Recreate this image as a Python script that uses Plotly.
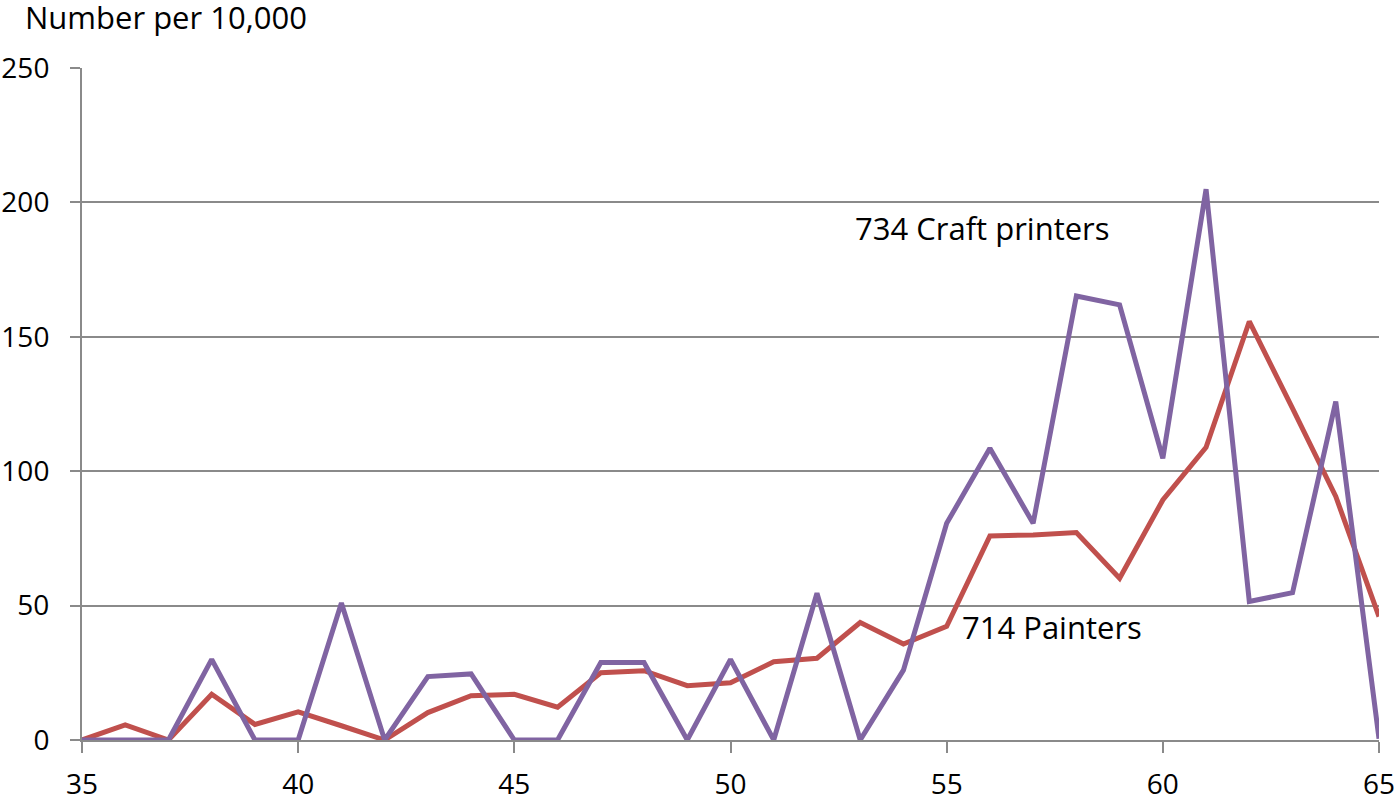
import plotly.graph_objects as go

age = list(range(35, 66))
craft_printers = [0, 0, 0, 30, 0, 0, 51, 0, 23.6, 24.6, 0, 0, 28.8, 28.8, 0, 30,
                  0, 54.6, 0, 26, 80.6, 108.5, 80.6, 165.2, 161.9, 104.8, 204.9,
                  51.5, 54.8, 125.9, 0.5]
painters = [0, 5.6, 0, 17, 5.8, 10.5, 5.3, 0, 10.2, 16.5, 17, 12.2, 25, 25.8, 20.2,
            21.3, 29.1, 30.4, 43.7, 35.7, 42.3, 75.9, 76.3, 77.2, 60.2, 89.3, 108.9,
            155.7, 123.4, 90.6, 45.9]
x_ticks = [35, 40, 45, 50, 55, 60, 65]
y_ticks = [0, 50, 100, 150, 200, 250]

FONT = "Open Sans"
GRID = "#8a8a8a"

fig = go.Figure()
fig.add_trace(go.Scatter(x=age, y=painters, mode="lines", name="714 Painters",
                         line=dict(color="#C0504D", width=5)))
fig.add_trace(go.Scatter(x=age, y=craft_printers, mode="lines", name="734 Craft printers",
                         line=dict(color="#8064A2", width=5)))

fig.update_layout(
    width=1400, height=796,
    margin=dict(l=82, r=21, t=68, b=56),
    paper_bgcolor="white", plot_bgcolor="white",
    showlegend=False,
    font=dict(family=FONT, size=28, color="black"),
    xaxis=dict(range=[35, 65], tickvals=x_ticks, showgrid=False, automargin=False,
               showline=True, linecolor=GRID, linewidth=2,
               ticks="outside", ticklen=11, tickcolor=GRID, tickwidth=2,
               ticklabelstandoff=7,
               tickfont=dict(size=28), zeroline=False),
    yaxis=dict(range=[0, 250], tickvals=y_ticks, showgrid=True, gridcolor=GRID,
               gridwidth=2, showline=True, linecolor=GRID, linewidth=2, automargin=False,
               ticks="outside", ticklen=10, tickcolor=GRID, tickwidth=2,
               ticklabelstandoff=15,
               tickfont=dict(size=28), zeroline=False),
    annotations=[
        dict(text="Number per 10,000", xref="paper", yref="paper",
             x=(23 - 82) / 1297, y=1 + (68 - 17) / 672, xanchor="left", yanchor="middle",
             showarrow=False, font=dict(size=31)),
        dict(text="734 Craft printers", x=52.83, y=190.5, xanchor="left", yanchor="middle",
             showarrow=False, font=dict(size=31)),
        dict(text="714 Painters", x=55.31, y=42.0, xanchor="left", yanchor="middle",
             showarrow=False, font=dict(size=31)),
    ],
)

fig.write_html("out.html", config={"displayModeBar": False},
               post_script="document.body.style.margin='0';")
